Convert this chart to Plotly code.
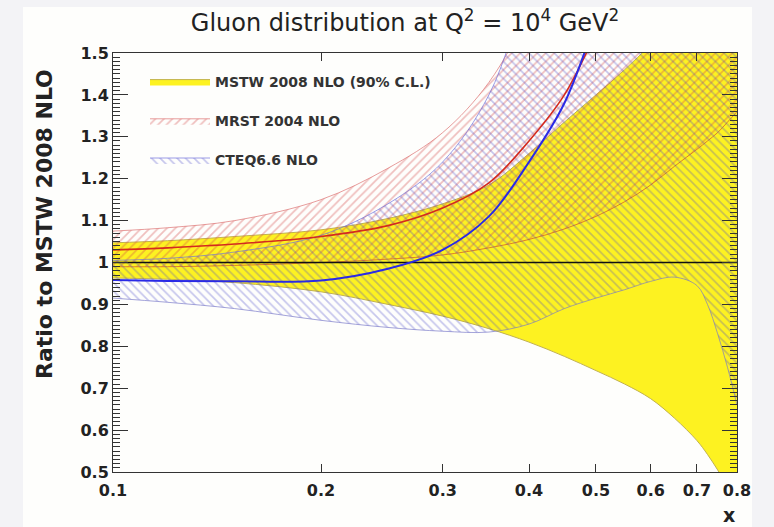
import math
import plotly.graph_objects as go

# ---------------- data ----------------
x = [0.1, 0.12, 0.15, 0.2, 0.25, 0.3, 0.35, 0.4, 0.45, 0.5, 0.55, 0.6, 0.65, 0.7, 0.725, 0.75, 0.775, 0.8]

mstw_central = [1.0, 1.0, 1.0, 1.0, 1.0, 1.0, 1.0, 1.0, 1.0, 1.0, 1.0, 1.0, 1.0, 1.0, 1.0, 1.0, 1.0, 1.0]
mstw_upper = [1.047, 1.052, 1.062, 1.078, 1.105, 1.14, 1.185, 1.26, 1.335, 1.40, 1.46, 1.52, 1.58, 1.64, 1.67, 1.70, 1.73, 1.76]
mstw_lower = [0.963, 0.960, 0.952, 0.930, 0.900, 0.872, 0.842, 0.810, 0.776, 0.742, 0.710, 0.675, 0.628, 0.575, 0.542, 0.505, 0.465, 0.420]

mrst_central = [1.030, 1.035, 1.044, 1.062, 1.088, 1.130, 1.190, 1.290, 1.400, 1.550, 1.72, 1.90, 2.10, 2.30, 2.40, 2.50, 2.60, 2.70]
mrst_upper = [1.075, 1.083, 1.100, 1.150, 1.225, 1.310, 1.430, 1.600, 1.800, 2.00, 2.20, 2.40, 2.60, 2.80, 2.90, 3.00, 3.10, 3.20]
mrst_lower = [0.990, 0.990, 0.993, 1.000, 1.008, 1.018, 1.035, 1.055, 1.080, 1.110, 1.145, 1.185, 1.230, 1.270, 1.290, 1.310, 1.335, 1.360]

cteq_central = [0.958, 0.956, 0.955, 0.957, 0.985, 1.030, 1.110, 1.240, 1.380, 1.580, 1.80, 2.00, 2.20, 2.40, 2.50, 2.60, 2.70, 2.80]
cteq_upper = [1.005, 1.010, 1.025, 1.065, 1.140, 1.240, 1.400, 1.660, 1.850, 2.05, 2.25, 2.45, 2.65, 2.85, 2.95, 3.05, 3.15, 3.25]
cteq_lower = [0.915, 0.905, 0.890, 0.862, 0.845, 0.836, 0.834, 0.853, 0.890, 0.915, 0.935, 0.955, 0.965, 0.945, 0.900, 0.830, 0.750, 0.660]

x_tickvals = [0.1, 0.2, 0.3, 0.4, 0.5, 0.6, 0.7, 0.8]
x_ticktext = ["0.1", "0.2", "0.3", "0.4", "0.5", "0.6", "0.7", "0.8"]

labels = ["MSTW 2008 NLO (90% C.L.)", "MRST 2004 NLO", "CTEQ6.6 NLO"]

# ---------------- style ----------------
YELLOW = "#fdf221"
YEDGE = "#c2b24e"
TXT = "#222222"
FONT = "DejaVu Sans"

fig = go.Figure()

# MSTW band
fig.add_trace(go.Scatter(x=x, y=mstw_lower, mode="lines", line=dict(color=YEDGE, width=1, shape="spline"),
                         legendgroup="g1", showlegend=False, hoverinfo="skip"))
fig.add_trace(go.Scatter(x=x, y=mstw_upper, mode="lines", line=dict(color=YEDGE, width=1, shape="spline"),
                         fill="tonexty", fillcolor=YELLOW, name=labels[0], legendgroup="g1"))

# MRST band (hatched /)
fig.add_trace(go.Scatter(x=x, y=mrst_lower, mode="lines",
                         line=dict(color="rgba(215,100,40,0.8)", width=1, shape="spline"),
                         legendgroup="g2", showlegend=False, hoverinfo="skip"))
fig.add_trace(go.Scatter(x=x, y=mrst_upper, mode="lines",
                         line=dict(color="rgba(220,110,110,0.85)", width=0.8, shape="spline"),
                         fill="tonexty", fillcolor="rgba(0,0,0,0)",
                         fillpattern=dict(shape="/", fgcolor="rgba(210,70,70,0.7)", size=6, solidity=0.28),
                         name=labels[1], legendgroup="g2"))

# CTEQ band (hatched \)
fig.add_trace(go.Scatter(x=x, y=cteq_lower, mode="lines",
                         line=dict(color="rgba(120,120,200,0.85)", width=0.8, shape="spline"),
                         legendgroup="g3", showlegend=False, hoverinfo="skip"))
fig.add_trace(go.Scatter(x=x, y=cteq_upper, mode="lines",
                         line=dict(color="rgba(110,110,220,0.85)", width=0.8, shape="spline"),
                         fill="tonexty", fillcolor="rgba(0,0,0,0)",
                         fillpattern=dict(shape="\\", fgcolor="rgba(70,70,200,0.62)", size=6, solidity=0.28),
                         name=labels[2], legendgroup="g3"))

# central lines
fig.add_trace(go.Scatter(x=x, y=mstw_central, mode="lines", line=dict(color="#111111", width=1.6),
                         legendgroup="g1", showlegend=False))
fig.add_trace(go.Scatter(x=x, y=mrst_central, mode="lines", line=dict(color="#d42a1e", width=1.6, shape="spline"),
                         legendgroup="g2", showlegend=False))
fig.add_trace(go.Scatter(x=x, y=cteq_central, mode="lines", line=dict(color="#2a2ae6", width=2, shape="spline"),
                         legendgroup="g3", showlegend=False))

# ---------------- layout ----------------
L, R, T, B = 113, 37, 53, 55
W, H = 774, 527
pw, ph = W - L - R, H - T - B

def px_x(p):
    return (p - L) / pw

def px_y(p):
    return (H - B - p) / ph

fig.update_layout(
    width=W, height=H,
    margin=dict(l=L, r=R, t=T, b=B, autoexpand=False),
    paper_bgcolor="#f3f3f6",
    plot_bgcolor="#fefefc",
    font=dict(family=FONT, color=TXT),
    title=dict(text="Gluon distribution at Q<sup>2</sup> = 10<sup>4</sup> GeV<sup>2</sup>",
               x=405 / W, xanchor="center", y=1 - 23 / H, yanchor="middle",
               font=dict(family=FONT, size=24, color=TXT)),
    showlegend=True,
    legend=dict(x=px_x(145), y=px_y(66), xanchor="left", yanchor="top",
                bgcolor="rgba(0,0,0,0)", itemwidth=60, tracegroupgap=18,
                font=dict(family=FONT, size=14, color="#333333", weight="bold")),
    xaxis=dict(type="log", range=[math.log10(x_tickvals[0]), math.log10(x_tickvals[-1])],
               tickvals=x_tickvals, ticktext=x_ticktext, tickangle=0, automargin=False,
               ticks="inside", ticklen=8, tickcolor="#333", showline=True, linecolor="#333", linewidth=1,
               mirror="ticks", showgrid=False, zeroline=False, ticklabelstandoff=4,
               tickfont=dict(family=FONT, size=16, color=TXT, weight="bold")),
    yaxis=dict(range=[0.5, 1.5], tick0=0.5, dtick=0.1, ticks="inside", ticklen=15, tickcolor="#333",
               showline=True, linecolor="#333", linewidth=1, mirror="ticks", showgrid=False, zeroline=False,
               automargin=False,
               minor=dict(dtick=0.01, ticks="inside", ticklen=7, tickcolor="#333", showgrid=False),
               tickfont=dict(family=FONT, size=16, color=TXT, weight="bold")),
    shapes=[dict(type="rect", xref="paper", yref="paper", x0=px_x(23), x1=px_x(752), y0=px_y(527), y1=px_y(7),
                 fillcolor="#fefefc", line=dict(width=0), layer="below")],
    annotations=[
        dict(text="Ratio to MSTW 2008 NLO", textangle=-90, xref="paper", yref="paper",
             x=px_x(44), y=px_y(224), xanchor="center", yanchor="middle", showarrow=False,
             font=dict(family=FONT, size=22, color=TXT, weight="bold")),
        dict(text="x", xref="paper", yref="paper", x=px_x(729), y=px_y(515), xanchor="center", yanchor="middle",
             showarrow=False, font=dict(family=FONT, size=19, color=TXT, weight="bold")),
    ],
)

fig.write_html("out.html", config={"displayModeBar": False},
               post_script="document.body.style.margin='0';document.body.style.background='#f3f3f6';")
